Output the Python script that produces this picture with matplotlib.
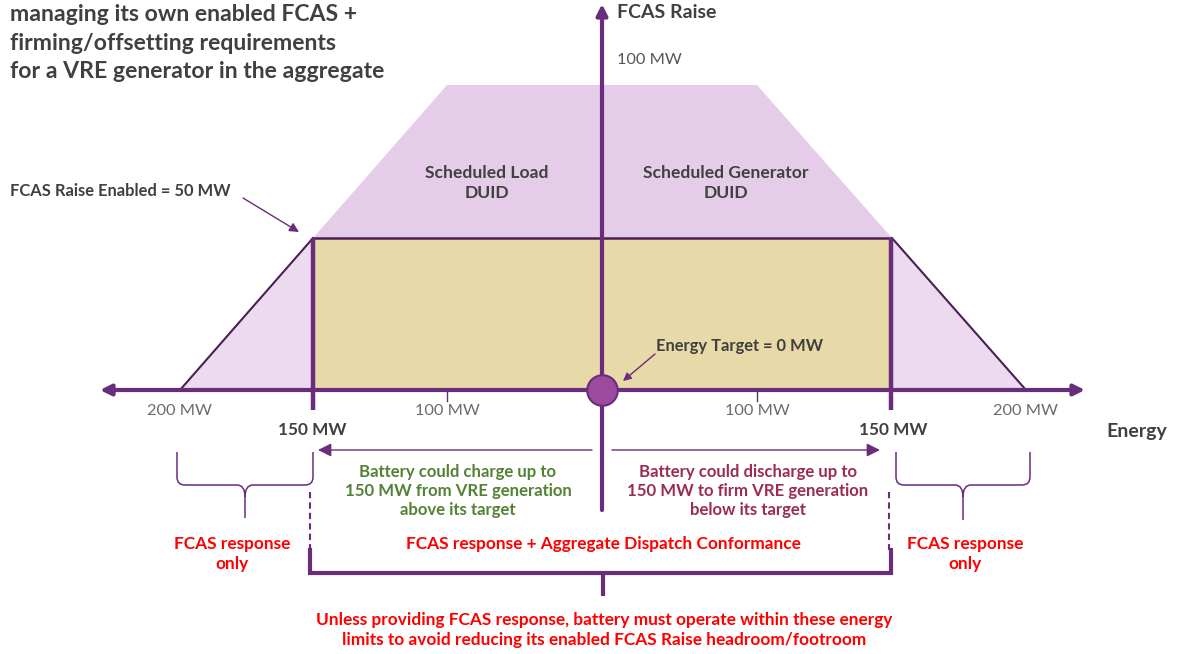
import numpy as np
import matplotlib.pyplot as plt
from matplotlib.patches import Polygon, PathPatch
from matplotlib.path import Path

plt.rcParams['font.family'] = ['Lato', 'DejaVu Sans']

# ============================
# Datos (MW)
# ============================
energy_ticks = [-200, -100, 100, 200]
energy_tick_labels = ["200 MW", "100 MW", "100 MW", "200 MW"]
energy_limits = [-150, 150]          # límites de energía de la batería
fcas_enabled = 50                    # FCAS Raise habilitado
fcas_max = 100                       # FCAS Raise máximo
trapezium_x = [-200, -100, 100, 200]
trapezium_y = [0, fcas_max, fcas_max, 0]
energy_target = 0

# colores
PURPLE = "#6A2C7C"
DARK_PURPLE = "#4B1F55"
PINK_TOP = "#E5CCE8"
PINK_LOW = "#ECDAEE"
TAN = "#E8D9A8"
GREY_TXT = "#404040"
GREEN_TXT = "#548235"
WINE_TXT = "#9B2D4E"
RED_TXT = "#FF0000"

# escala horizontal esquemática (no lineal, como en el diagrama)
knots_mw = np.array([-400, -200, -100, 0, 100, 200, 400])
knots_px = np.array([-958, -422, -155, 0, 155, 424, 960])


def fwd(x):
    return np.interp(x, knots_mw, knots_px)


def inv(x):
    return np.interp(x, knots_px, knots_mw)


fig = plt.figure(figsize=(11.83, 6.54), dpi=100)
ax = fig.add_axes([0, 0, 1, 1])
ax.set_xscale("function", functions=(fwd, inv))
ax.set_xlim(inv(-602), inv(581))
ax.set_ylim((390 - 654) / 3.05, 390 / 3.05)
ax.axis("off")

# trapecio FCAS
ax.add_patch(Polygon(list(zip(trapezium_x, trapezium_y)), closed=True,
                     facecolor=PINK_TOP, edgecolor="none", zorder=1))
for side in (-1, 1):
    tri = [(side * 200, 0), (side * 150, fcas_enabled), (side * 150, 0)]
    ax.add_patch(Polygon(tri, closed=True, facecolor=PINK_LOW,
                         edgecolor=DARK_PURPLE, lw=1.5, zorder=2))

# rectángulo de energía
rect = [(energy_limits[0], 0), (energy_limits[0], fcas_enabled),
        (energy_limits[1], fcas_enabled), (energy_limits[1], 0)]
ax.add_patch(Polygon(rect, closed=True, facecolor=TAN, edgecolor=DARK_PURPLE,
                     lw=1.8, zorder=3))

# líneas de límite 150 MW
for lim in energy_limits:
    ax.plot([lim, lim], [fcas_enabled, -6.5], color=PURPLE, lw=3.2,
            solid_capstyle="butt", zorder=5)

# eje de energía
ax.annotate("", xy=(inv(-502), 0), xytext=(0, 0),
            arrowprops=dict(arrowstyle="-|>", color=PURPLE, lw=3,
                            mutation_scale=16, shrinkA=0, shrinkB=0), zorder=4)
ax.annotate("", xy=(inv(483), 0), xytext=(0, 0),
            arrowprops=dict(arrowstyle="-|>", color=PURPLE, lw=3,
                            mutation_scale=16, shrinkA=0, shrinkB=0), zorder=4)

# eje FCAS Raise
ax.annotate("", xy=(0, (390 - 4) / 3.05), xytext=(0, (390 - 510) / 3.05),
            arrowprops=dict(arrowstyle="-|>", color=PURPLE, lw=3,
                            mutation_scale=16, shrinkA=0, shrinkB=0), zorder=6)

# marcas y etiquetas del eje de energía
for t, lab in zip(energy_ticks, energy_tick_labels):
    if abs(t) == 100:
        ax.plot([t, t], [0, -3.6], color=PURPLE, lw=1, zorder=4)
    ax.text(t, -6.8, lab, ha="center", va="center", fontsize=11.8,
            color="#6B6B6B")

# objetivo de energía
ax.plot([energy_target], [0], "o", ms=22, mfc="#9B4A9E", mec=PURPLE,
        mew=1.5, zorder=8)

# ============================
# Capa de anotaciones (pixeles)
# ============================
lay = fig.add_axes([0, 0, 1, 1], zorder=10)
lay.set_xlim(0, 1183)
lay.set_ylim(654, 0)
lay.axis("off")
lay.patch.set_alpha(0)

title = ("managing its own enabled FCAS +\nfirming/offsetting requirements\n"
         "for a VRE generator in the aggregate")
lay.text(10, 43, title, ha="left", va="center", fontsize=16.6, weight="bold",
         color=GREY_TXT, linespacing=1.45)

lay.text(617, 13, "FCAS Raise", ha="left", va="center", fontsize=14,
         weight="bold", color=GREY_TXT)
lay.text(617, 60, "100 MW", ha="left", va="center", fontsize=11.8,
         color="#555555")

lay.text(487, 183, "Scheduled Load\nDUID", ha="center", va="center",
         fontsize=12.6, weight="bold", color=GREY_TXT, linespacing=1.3)
lay.text(726, 183, "Scheduled Generator\nDUID", ha="center", va="center",
         fontsize=12.6, weight="bold", color=GREY_TXT, linespacing=1.3)

lay.text(10, 191, "FCAS Raise Enabled = 50 MW", ha="left", va="center",
         fontsize=11.9, weight="bold", color=GREY_TXT)
lay.annotate("", xy=(299, 232), xytext=(243, 198),
             arrowprops=dict(arrowstyle="-|>", color=PURPLE, lw=1,
                             mutation_scale=14, shrinkA=0, shrinkB=0))

lay.text(740, 346, "Energy Target = 0 MW", ha="center", va="center",
         fontsize=11.9, weight="bold", color=GREY_TXT)
lay.annotate("", xy=(623, 381), xytext=(655, 354),
             arrowprops=dict(arrowstyle="-|>", color=PURPLE, lw=1,
                             mutation_scale=12, shrinkA=0, shrinkB=0))

lay.text(312, 430, "150 MW", ha="center", va="center", fontsize=12.4,
         weight="bold", color=GREY_TXT)
lay.text(893, 430, "150 MW", ha="center", va="center", fontsize=12.4,
         weight="bold", color=GREY_TXT)
lay.text(1137, 432, "Energy", ha="center", va="center", fontsize=14,
         weight="bold", color=GREY_TXT)

# flechas de carga / descarga
lay.annotate("", xy=(318, 450), xytext=(592, 450),
             arrowprops=dict(arrowstyle="-|>", color=PURPLE, lw=1,
                             mutation_scale=20, shrinkA=0, shrinkB=0))
lay.annotate("", xy=(880, 450), xytext=(612, 450),
             arrowprops=dict(arrowstyle="-|>", color=PURPLE, lw=1,
                             mutation_scale=20, shrinkA=0, shrinkB=0))

lay.text(458, 491, "Battery could charge up to\n150 MW from VRE generation\nabove its target",
         ha="center", va="center", fontsize=12.1, weight="bold",
         color=GREEN_TXT, linespacing=1.2)
lay.text(748, 491, "Battery could discharge up to\n150 MW to firm VRE generation\nbelow its target",
         ha="center", va="center", fontsize=12.1, weight="bold",
         color=WINE_TXT, linespacing=1.2)


def brace(x0, x1, ytop, ymid, ytip):
    xc = (x0 + x1) / 2
    r = 8
    verts = [(x0, ytop), (x0, ymid - r), (x0, ymid), (x0 + r, ymid),
             (xc - r, ymid), (xc, ymid), (xc, ymid + 12), (xc, ytip),
             (xc, ymid + 12), (xc, ymid), (xc + r, ymid),
             (x1 - r, ymid), (x1, ymid), (x1, ymid - r), (x1, ytop)]
    codes = [Path.MOVETO, Path.LINETO, Path.CURVE3, Path.CURVE3,
             Path.LINETO, Path.CURVE3, Path.CURVE3, Path.LINETO,
             Path.MOVETO, Path.CURVE3, Path.CURVE3,
             Path.LINETO, Path.CURVE3, Path.CURVE3, Path.LINETO]
    lay.add_patch(PathPatch(Path(verts, codes), facecolor="none",
                            edgecolor=PURPLE, lw=1.1))


brace(177, 313, 452, 485, 518)
brace(896, 1030, 452, 485, 520)

# corchete inferior
lay.plot([310, 310], [492, 550], color=PURPLE, lw=1.5, ls=(0, (3, 2)))
lay.plot([889, 889], [492, 550], color=PURPLE, lw=1.5, ls=(0, (3, 2)))
lay.plot([310, 310, 891, 891], [550, 573, 573, 550], color=PURPLE, lw=3,
         solid_joinstyle="miter")
lay.plot([603, 603], [573, 596], color=PURPLE, lw=3, solid_capstyle="butt")

lay.text(232, 554, "FCAS response\nonly", ha="center", va="center",
         fontsize=12.4, weight="bold", color=RED_TXT, linespacing=1.25)
lay.text(965, 554, "FCAS response\nonly", ha="center", va="center",
         fontsize=12.4, weight="bold", color=RED_TXT, linespacing=1.25)
lay.text(603, 544, "FCAS response + Aggregate Dispatch Conformance",
         ha="center", va="center", fontsize=12.4, weight="bold",
         color=RED_TXT)
lay.text(604, 630,
         "Unless providing FCAS response, battery must operate within these energy\n"
         "limits to avoid reducing its enabled FCAS Raise headroom/footroom",
         ha="center", va="center", fontsize=12.4, weight="bold",
         color=RED_TXT, linespacing=1.25)

fig.savefig("out.png", dpi=100)
